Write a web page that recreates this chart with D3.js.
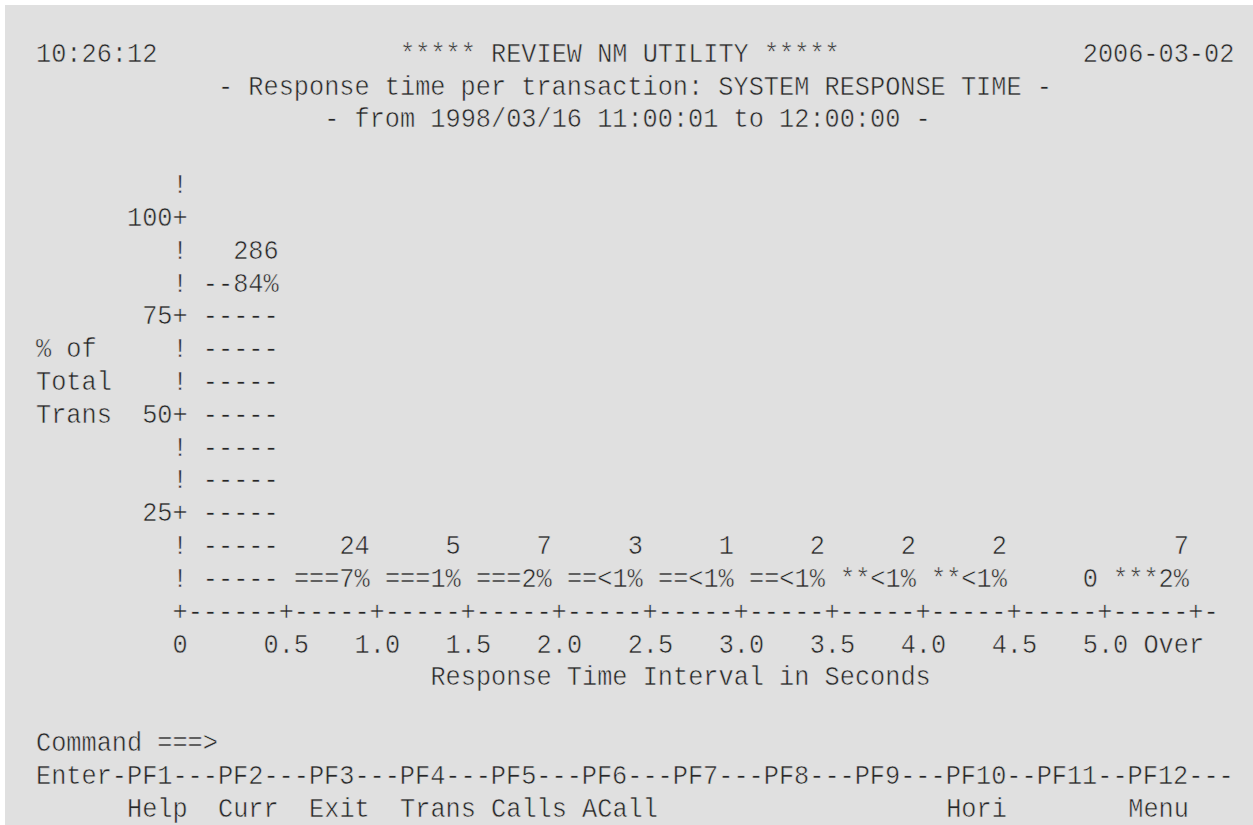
<!DOCTYPE html>
<html>
<head>
<meta charset="utf-8">
<script src="https://cdn.jsdelivr.net/npm/d3@7"></script>
<style>
html,body{margin:0;padding:0;background:#ffffff;}
svg{display:block;}
text{font-family:"Liberation Mono","DejaVu Sans Mono",monospace;white-space:pre;}
</style>
</head>
<body>
<svg id="chart" width="1253" height="825"></svg>
<script>
// ---- data ----
const headerTime = "10:26:12";
const headerTitle = "***** REVIEW NM UTILITY *****";
const headerDate = "2006-03-02";
const subtitle = "- Response time per transaction: SYSTEM RESPONSE TIME -";
const period = "- from 1998/03/16 11:00:01 to 12:00:00 -";
const yAxisTitle = ["% of", "Total", "Trans"];
const yTickValues = [100, 75, 50, 25];
const xTickValues = [0, 0.5, 1.0, 1.5, 2.0, 2.5, 3.0, 3.5, 4.0, 4.5, 5.0];
const xTickLabels = ["0", "0.5", "1.0", "1.5", "2.0", "2.5", "3.0", "3.5", "4.0", "4.5", "5.0"];
const overLabel = "Over";
const intervalStarts = [0, 0.5, 1.0, 1.5, 2.0, 2.5, 3.0, 3.5, 4.0, 4.5, 5.0];
const counts = [286, 24, 5, 7, 3, 1, 2, 2, 2, 0, 7];
const percents = [84, 7, 1, 2, 0.9, 0.3, 0.6, 0.6, 0.6, 0, 2];
const percentLabels = ["84%", "7%", "1%", "2%", "<1%", "<1%", "<1%", "<1%", "<1%", "", "2%"];
const barSymbols = ["-", "=", "=", "=", "=", "=", "=", "*", "*", "*", "*"];
const xAxisTitle = "Response Time Interval in Seconds";
const commandLine = "Command ===>";
const pfKeys = ["Enter", "PF1", "PF2", "PF3", "PF4", "PF5", "PF6", "PF7", "PF8", "PF9", "PF10", "PF11", "PF12"];
const pfLabels = ["", "Help", "Curr", "Exit", "Trans", "Calls", "ACall", "", "", "", "Hori", "", "Menu"];

// ---- layout (character grid) ----
const W = 1253, H = 825;
const bg = "#e0e0e0";
const svg = d3.select("#chart");
svg.append("rect").attr("x", 5).attr("y", 5).attr("width", W - 5).attr("height", H - 5).attr("fill", bg);

const cellW = 15.17, fontSize = 28, sx = cellW / (fontSize * 0.6);
const col = d3.scaleLinear().domain([0, 80]).range([36, 36 + 80 * cellW]);
const pitch = 32.83;
const row = d3.scaleLinear().domain([0, 1]).range([61.7, 61.7 + pitch]);
const ink = "#262626";

const g = svg.append("g");
function put(str, c, r) {
  g.append("text")
    .attr("transform", `translate(${col(c)},${row(r)}) scale(${sx},1)`)
    .attr("font-size", fontSize)
    .attr("fill", ink)
    .attr("stroke", bg)
    .attr("stroke-width", 0.55)
    .text(str);
}
function putRight(str, lastCol, r) { put(str, lastCol - str.length + 1, r); }

// header
put(headerTime, 0, 0);
put(headerTitle, 24, 0);
putRight(headerDate, 78, 0);
put(subtitle, 12, 1);
put(period, 19, 2);

// chart scales (in grid units)
const axisRow = 17, topRow = 5, yAxisCol = 9;
const yScale = d3.scaleLinear().domain([0, 100]).range([row(axisRow), row(topRow)]);
const xScale = d3.scaleLinear().domain([0, 5.5]).range([10, 76]); // grid columns

// y axis
const tickRows = new Map(yTickValues.map(v => [Math.round((row(axisRow) - yScale(v)) / pitch), v]));
for (let r = topRow - 1; r < axisRow; r++) {
  const k = axisRow - r;
  if (tickRows.has(k)) putRight(tickRows.get(k) + "+", yAxisCol, r);
  else put("!", yAxisCol, r);
}
yAxisTitle.forEach((t, i) => put(t, 0, 9 + i));

// x axis line
let axisStr = "";
const plusCols = new Set([yAxisCol].concat(xTickValues.slice(1).map(v => Math.round(xScale(v)))).concat([Math.round(xScale(5.5))]));
for (let c = yAxisCol; c <= Math.round(xScale(5.5)) + 1; c++) axisStr += plusCols.has(c) ? "+" : "-";
put(axisStr, yAxisCol, axisRow);

// x tick labels
xTickLabels.forEach((t, i) => {
  const v = xTickValues[i];
  if (i === 0) put(t, yAxisCol, axisRow + 1);
  else put(t, Math.round(xScale(v)) - Math.floor(t.length / 2), axisRow + 1);
});
putRight(overLabel, Math.round(xScale(5.5)), axisRow + 1);
const axisMid = (yAxisCol + Math.round(xScale(5.5)) + 1) / 2;
put(xAxisTitle, Math.floor(axisMid - xAxisTitle.length / 2), axisRow + 2);

// bars (character bars)
intervalStarts.forEach((s, i) => {
  const c0 = Math.round(xScale(s)) + 1;
  const c1 = Math.round(xScale(s + 0.5)) - 1;
  const width = c1 - c0 + 1;
  if (counts[i] === 0) { putRight(String(counts[i]), c1, axisRow - 1); return; }
  const nRows = Math.max(1, Math.round((yScale(0) - yScale(percents[i])) / pitch));
  const top = axisRow - nRows;
  for (let r = top; r < axisRow; r++) {
    let s2 = barSymbols[i].repeat(width);
    if (r === top) s2 = barSymbols[i].repeat(width - percentLabels[i].length) + percentLabels[i];
    put(s2, c0, r);
  }
  putRight(String(counts[i]), c1, top - 1);
});

// command + PF keys
put(commandLine, 0, 21);
let pfStr = "";
pfKeys.forEach((k, i) => { pfStr += k.padEnd(i === pfKeys.length - 1 ? 7 : 6, "-"); });
put(pfStr, 0, 22);
pfLabels.forEach((l, i) => { if (l) put(l, i * 6, 23); });
</script>
</body>
</html>
